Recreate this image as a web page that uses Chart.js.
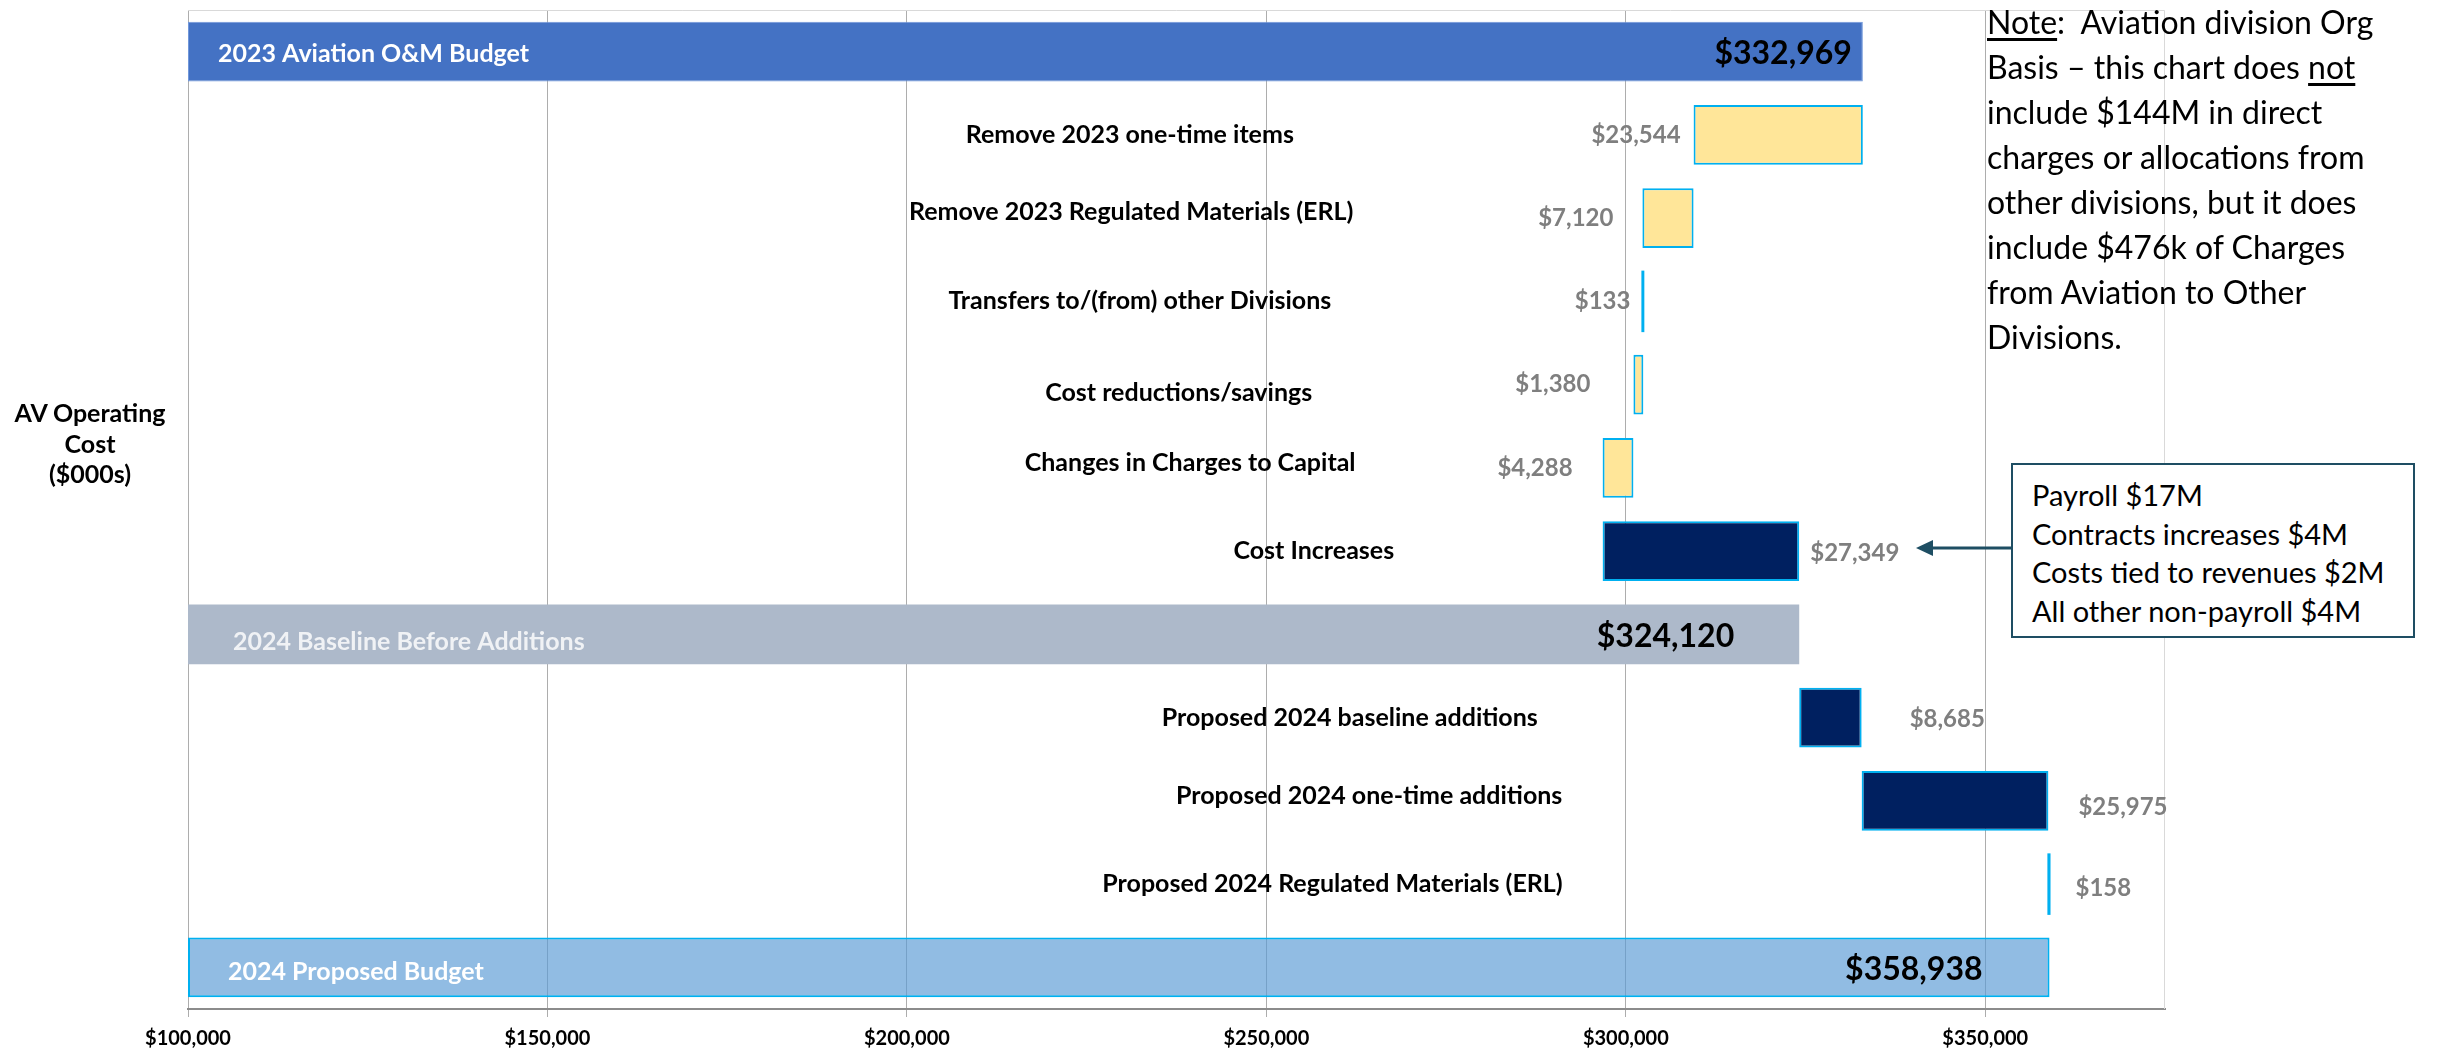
<!DOCTYPE html>
<html>
<head>
<meta charset="utf-8">
<script src="https://cdn.jsdelivr.net/npm/chart.js@4.4.0/dist/chart.umd.min.js"></script>
<style>
    body { margin: 0; background: #fff; font-family: Lato, "Open Sans", sans-serif; }
    #wrap { position: relative; width: 2438px; height: 1053px; }
    .yTitle {
        position: absolute; left: 0; top: 397px; width: 180px;
        text-align: center; font-weight: bold; font-size: 25px; line-height: 30.5px; color: #000;
    }
    .note {
        position: absolute; left: 1987px; top: -1px; width: 451px;
        font-size: 32px; line-height: 45px; color: #000; white-space: nowrap;
    }
    .note u { text-underline-offset: 4px; }
    .callout {
        position: absolute; left: 2011px; top: 463px; width: 400px; height: 171px;
        border: 2px solid #1E4E63; background: #fff; box-sizing: content-box;
        font-size: 29px; line-height: 38.5px; color: #000;
    }
    .callout div { padding: 11px 0 0 19px; white-space: nowrap; }
    .arrow { position: absolute; left: 0; top: 0; }
</style>
</head>
<body>
<div id="wrap">
    <canvas id="waterfall"></canvas>
    <div class="yTitle">AV Operating<br>Cost<br>($000s)</div>
    <div class="note"><u>Note</u>:&nbsp; Aviation division Org<br>Basis – this chart does <u>not</u><br>include $144M in direct<br>charges or allocations from<br>other divisions, but it does<br>include $476k of Charges<br>from Aviation to Other<br>Divisions.</div>
    <div class="callout"><div>Payroll $17M<br>Contracts increases $4M<br>Costs tied to revenues $2M<br>All other non-payroll $4M</div></div>
    <svg class="arrow" width="2438" height="1053">
        <line x1="2012" y1="548" x2="1930" y2="548" stroke="#1E4E63" stroke-width="3"/>
        <polygon points="1916,548 1933,540 1933,556" fill="#1E4E63"/>
    </svg>
</div>
<script>
// rows, top to bottom
const categories = [
    '2023 Aviation O&M Budget',
    'Remove 2023 one-time items',
    'Remove 2023 Regulated Materials (ERL)',
    'Transfers to/(from) other Divisions',
    'Cost reductions/savings',
    'Changes in Charges to Capital',
    'Cost Increases',
    '2024 Baseline Before Additions',
    'Proposed 2024 baseline additions',
    'Proposed 2024 one-time additions',
    'Proposed 2024 Regulated Materials (ERL)',
    '2024 Proposed Budget'
];
// full totals ($000s), null where the row is a step
const totals = [332969, null, null, null, null, null, null, 324120, null, null, null, 358938];
// step changes ($000s), null where the row is a total
const changes = [null, -23544, -7120, 133, -1380, -4288, 27349, null, 8685, 25975, 158, null];
const xTicks = [100000, 150000, 200000, 250000, 300000, 350000];
const axisMin = 100000;
const axisMax = 375000;

const money = v => '$' + Math.round(v).toLocaleString('en-US');

// waterfall bars from the running level
let level = 0;
const bars = categories.map((c, i) => {
    if (totals[i] !== null) {
        level = totals[i];
        return [axisMin, totals[i]];
    }
    const next = level + changes[i];
    const bar = [Math.min(level, next), Math.max(level, next)];
    level = next;
    return bar;
});

// styling per row (tiny steps only show their cyan outline)
const barFill = ['#4472C4', '#FFE699', '#FFE699', '#00B0F0', '#FFE699', '#FFE699', '#002060',
    '#ADB9CA', '#002060', '#002060', '#00B0F0', 'rgba(91,155,213,0.67)'];
const barBorder = ['#7097DA', '#00B0F0', '#00B0F0', '#00B0F0', '#00B0F0', '#00B0F0', '#00B0F0',
    '#ADB9CA', '#00B0F0', '#00B0F0', '#00B0F0', '#00B0F0'];
const barBorderWidth = [1, 2, 2, 0, 2, 2, 2, 0, 2, 2, 0, 2];

// label layout
const nameAt = [null, 231000, 231200, 232400, 237800, 239400, 256600, null, 261600, 264300, 259200, null];
const nameDy = [2, 0, -6, 0, 8, -5, 0, 8, 0, -5, 0, 5];
const namePad = [30, 0, 0, 0, 0, 0, 0, 45, 0, 0, 0, 40];
const nameColor = ['#FFFFFF', '', '', '', '', '', '', '#F0F2F5', '', '', '', '#FFFFFF'];
const valueSide = ['in', 'left', 'left', 'left', 'left', 'left', 'right', 'in', 'right', 'right', 'right', 'in'];
const valueGap = [11, 13, 29, 12, 43, 30, 11, 65, 48, 30, 26, 67];
const valueDy = [2, 0, 0, 0, 0, 0, 2, 2, 2, 6, 4, 2];

const barLabels = {
    id: 'barLabels',
    beforeDatasetsDraw(chart) {
        const { ctx, chartArea: a } = chart;
        ctx.save();
        ctx.strokeStyle = '#D9D9D9';
        ctx.lineWidth = 1;
        ctx.beginPath();
        ctx.moveTo(a.left, a.top + 0.5);
        ctx.lineTo(a.right - 0.5, a.top + 0.5);
        ctx.lineTo(a.right - 0.5, a.bottom);
        ctx.stroke();
        ctx.restore();
    },
    afterDatasetsDraw(chart) {
        const { ctx, chartArea: a, scales: { x } } = chart;
        const meta = chart.getDatasetMeta(0);
        ctx.save();
        ctx.textBaseline = 'middle';
        categories.forEach((name, i) => {
            const bar = meta.data[i];
            const left = Math.min(bar.x, bar.base);
            const right = Math.max(bar.x, bar.base);
            const y = bar.y;
            if (totals[i] !== null) {
                ctx.font = 'bold 25px Lato';
                ctx.fillStyle = nameColor[i];
                ctx.textAlign = 'left';
                ctx.fillText(name, a.left + namePad[i], y + nameDy[i]);
                ctx.font = 'bold 32px Lato';
                ctx.fillStyle = '#000';
                ctx.textAlign = 'right';
                ctx.fillText(money(totals[i]), right - valueGap[i], y + valueDy[i]);
            } else {
                ctx.font = 'bold 25px Lato';
                ctx.fillStyle = '#000';
                ctx.textAlign = 'center';
                ctx.fillText(name, x.getPixelForValue(nameAt[i]), y + nameDy[i]);
                ctx.font = 'bold 24px Lato';
                ctx.fillStyle = '#7F7F7F';
                const txt = money(Math.abs(changes[i]));
                if (valueSide[i] === 'left') {
                    ctx.textAlign = 'right';
                    ctx.fillText(txt, left - valueGap[i], y + valueDy[i]);
                } else {
                    ctx.textAlign = 'left';
                    ctx.fillText(txt, right + valueGap[i], y + valueDy[i]);
                }
            }
        });
        ctx.restore();
    }
};

new Chart(document.getElementById('waterfall'), {
    type: 'bar',
    data: {
        labels: categories,
        datasets: [{
            data: bars,
            backgroundColor: barFill,
            borderColor: barBorder,
            borderWidth: barBorderWidth,
            borderSkipped: false,
            inflateAmount: ctx => (changes[ctx.dataIndex] !== null && Math.abs(changes[ctx.dataIndex]) < 1000) ? 1 : 0,
            categoryPercentage: 1,
            barPercentage: 0.715
        }]
    },
    options: {
        indexAxis: 'y',
        responsive: true,
        maintainAspectRatio: false,
        animation: false,
        layout: { padding: { left: 188, right: 273, top: 10, bottom: 0 } },
        scales: {
            x: {
                min: axisMin,
                max: axisMax,
                afterBuildTicks: scale => { scale.ticks = xTicks.map(v => ({ value: v })); },
                afterFit: scale => { scale.height = 44; },
                grid: { color: '#ADADAD', lineWidth: 1, tickLength: 8, drawTicks: true, tickColor: '#ADADAD' },
                border: { display: true, color: '#8C8C8C', width: 2 },
                ticks: {
                    padding: 10,
                    color: '#000',
                    font: { family: 'Lato', size: 20, weight: 'bold' },
                    callback: v => money(v)
                }
            },
            y: { display: false }
        },
        plugins: {
            legend: { display: false },
            tooltip: { enabled: false }
        }
    },
    plugins: [barLabels]
});
</script>
</body>
</html>
